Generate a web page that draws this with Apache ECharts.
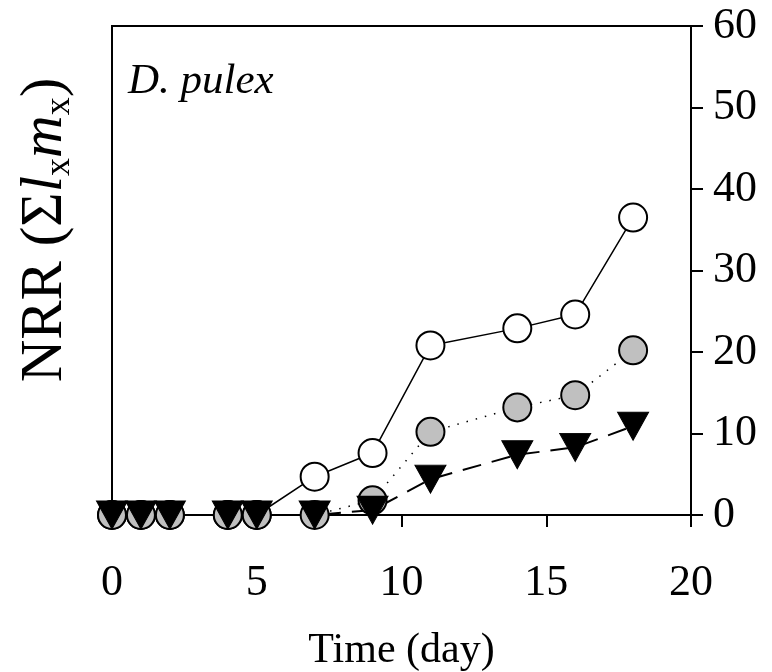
<!DOCTYPE html>
<html>
<head>
<meta charset="utf-8">
<script src="https://cdn.jsdelivr.net/npm/echarts@6/dist/echarts.min.js"></script>
<style>
html, body { margin: 0; padding: 0; background: #fff; }
#main { width: 772px; height: 672px; }
</style>
</head>
<body>
<div id="main"></div>
<script>
// 数据
var days = [0, 1, 2, 4, 5, 7, 9, 11, 14, 16, 18];
var openCircle = [0, 0, 0, 0, 0, 4.7, 7.6, 20.8, 22.9, 24.6, 36.5];
var grayCircle = [0, 0, 0, 0, 0, 0, 1.8, 10.2, 13.2, 14.7, 20.2];
var blackTriangle = [0, 0, 0, 0, 0, 0, 0.6, 4.4, 7.4, 8.3, 10.9];
var xTicks = [0, 5, 10, 15, 20];
var yTicks = [0, 10, 20, 30, 40, 50, 60];

function pairs(xs, ys) {
    return xs.map(function (x, i) { return [x, ys[i]]; });
}

var font = '"Liberation Serif", "DejaVu Serif", serif';

var myChart = echarts.init(document.getElementById('main'));
var option = {
    animation: false,
    backgroundColor: '#fff',
    grid: {
        left: 112,
        right: 81,
        top: 26,
        bottom: 157,
        containLabel: false,
        outerBoundsMode: 'none',
        show: true,
        borderColor: '#000',
        borderWidth: 2,
        backgroundColor: 'transparent'
    },
    xAxis: {
        type: 'value',
        min: xTicks[0],
        max: xTicks[xTicks.length - 1],
        interval: 5,
        splitLine: { show: false },
        axisLine: { onZero: false, lineStyle: { color: '#000', width: 2 } },
        axisTick: { show: true, inside: false, length: 12, lineStyle: { color: '#000', width: 2 } },
        axisLabel: { color: '#000', fontSize: 44, fontFamily: font, margin: 46 },
        name: 'Time (day)',
        nameLocation: 'middle',
        nameGap: 115,
        nameTextStyle: { color: '#000', fontSize: 42, fontFamily: font }
    },
    yAxis: {
        type: 'value',
        position: 'right',
        min: yTicks[0],
        max: yTicks[yTicks.length - 1],
        interval: 10,
        splitLine: { show: false },
        axisLine: { show: true, onZero: false, lineStyle: { color: '#000', width: 2 } },
        axisTick: { show: true, inside: false, length: 12, lineStyle: { color: '#000', width: 2 } },
        axisLabel: { color: '#000', fontSize: 44, fontFamily: font, margin: 22 }
    },
    graphic: [
        {
            type: 'text',
            left: 128,
            top: 60,
            style: {
                text: 'D. pulex',
                fill: '#000',
                font: 'italic 43px ' + font
            }
        },
        {
            type: 'text',
            x: 45,
            y: 230,
            rotation: Math.PI / 2,
            style: {
                text: '{a|NRR (Σ}{i|l}{s|x}{i|m}{s|x}{a|)}',
                align: 'center',
                verticalAlign: 'middle',
                fill: '#000',
                rich: {
                    a: { fontSize: 59, fontFamily: font, lineHeight: 66 },
                    i: { fontSize: 59, fontFamily: font, fontStyle: 'italic', lineHeight: 66 },
                    s: { fontSize: 36, fontFamily: font, lineHeight: 36, verticalAlign: 'bottom' }
                }
            }
        }
    ],
    series: [
        {
            name: 'open',
            type: 'line',
            data: pairs(days, openCircle),
            symbol: 'circle',
            symbolSize: 28,
            lineStyle: { color: '#000', width: 1.5 },
            itemStyle: { color: '#fff', borderColor: '#000', borderWidth: 2 }
        },
        {
            name: 'gray',
            type: 'line',
            data: pairs(days, grayCircle),
            symbol: 'circle',
            symbolSize: 28,
            lineStyle: { color: '#000', width: 1.5, type: [1.5, 8] },
            itemStyle: { color: '#c0c0c0', borderColor: '#000', borderWidth: 2 }
        },
        {
            name: 'triangle',
            type: 'line',
            data: pairs(days, blackTriangle),
            symbol: 'triangle',
            symbolSize: [31, 28],
            symbolRotate: 180,
            lineStyle: { color: '#000', width: 2, type: [19, 11] },
            itemStyle: { color: '#000', borderColor: '#000', borderWidth: 1 }
        }
    ]
};
myChart.setOption(option);
</script>
</body>
</html>
